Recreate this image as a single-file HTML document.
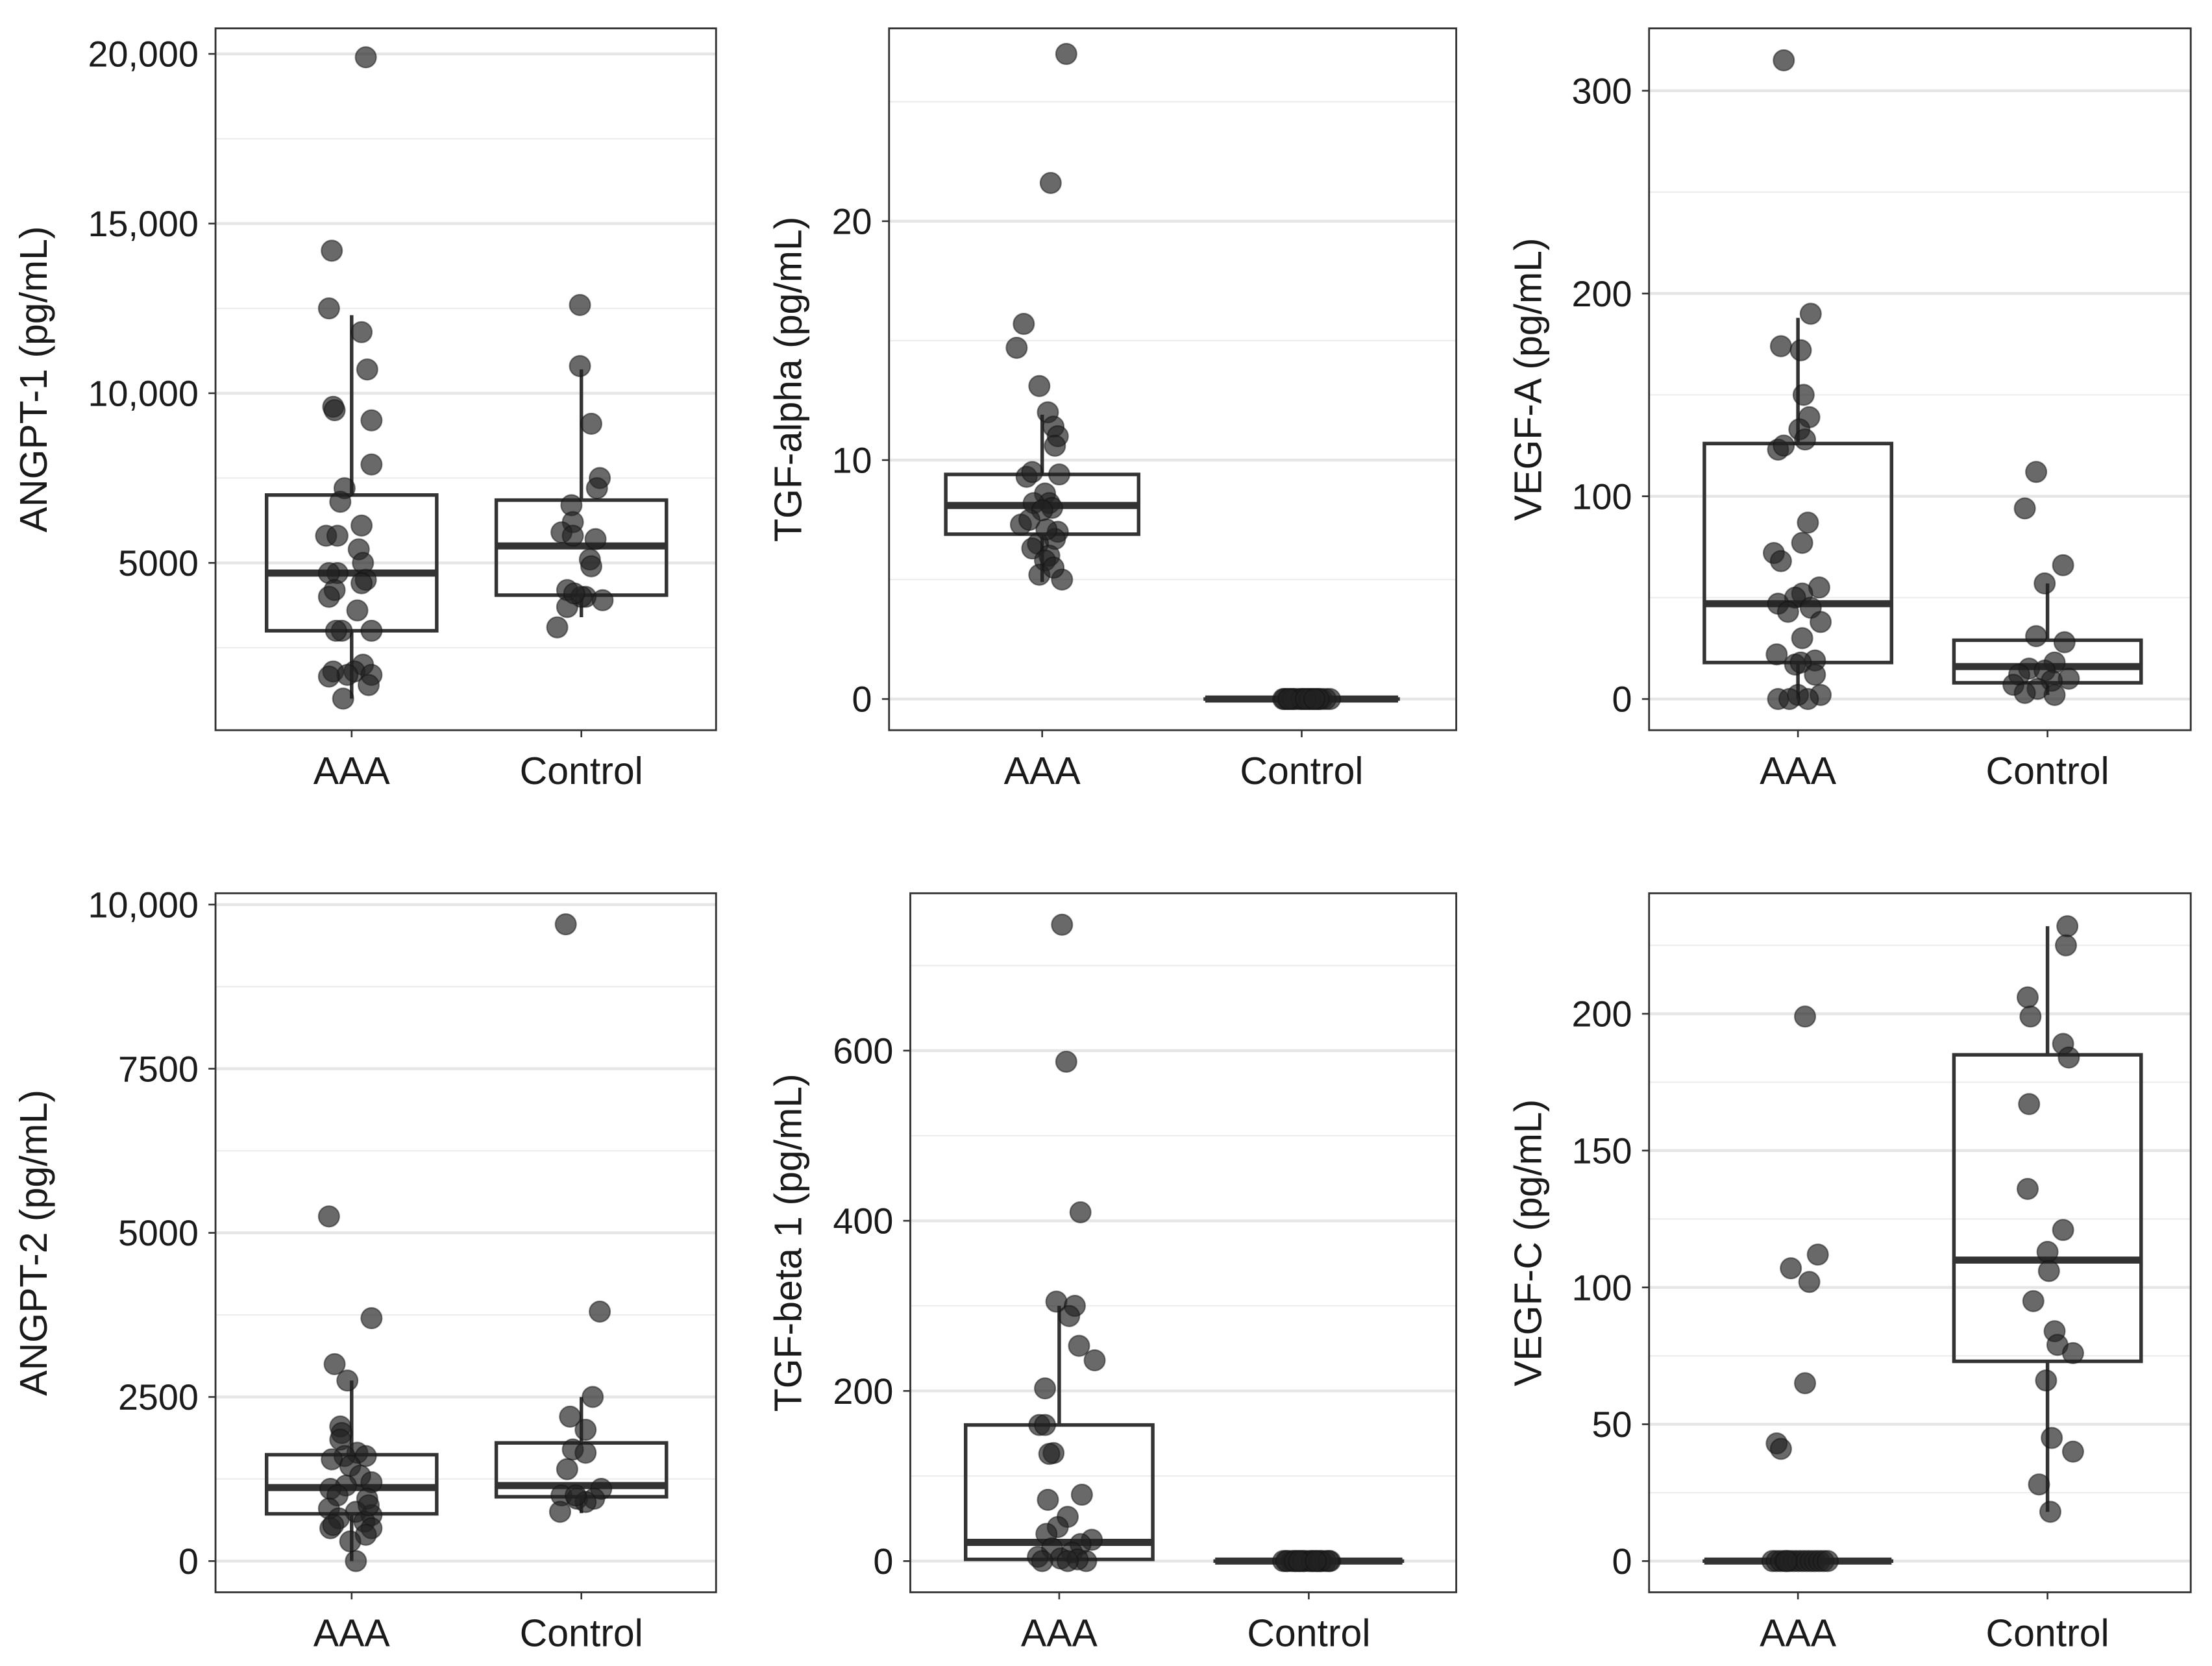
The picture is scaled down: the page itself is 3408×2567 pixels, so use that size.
<!DOCTYPE html>
<html><head><meta charset="utf-8">
<style>
html,body{margin:0;padding:0;background:#fff;}
svg{display:block;}
text{font-family:"Liberation Sans",Arial,sans-serif;fill:#1a1a1a;}
</style></head>
<body>
<svg id="fig" width="3408" height="2567" viewBox="0 0 1560 1175" preserveAspectRatio="none" xmlns="http://www.w3.org/2000/svg"></svg>
<script>
// ---------- data ----------
const categories = ["AAA","Control"];
// Panel 1: ANGPT-1
const p1Ticks = [5000,10000,15000,20000];
const p1TickLabels = ["5000","10,000","15,000","20,000"];
const p1Minor = [2500,7500,12500,17500];
const p1Box = [[1000,3000,4700,7000,12300],[3400,4050,5500,6850,10700]];
const p1AAA = [19900,14200,12500,11800,10700,9600,9500,9200,7900,7200,6800,5800,5800,6100,5400,5000,4700,4700,4500,4400,4200,4000,3600,3000,3000,3000,1800,2000,1800,1700,1400,1000,1700,1650];
const p1AAAj = [10,-14,-16,7,11,-13,-12,14,14,-5,-8,-18,-10,7,5,8,-10,-16,10,7,-12,-16,4,-7,-11,14,-13,8,2,14,12,-6,-3,-16];
const p1Ctl = [12600,10800,9100,7500,7200,6700,6200,5900,5800,5700,5100,4900,4200,4000,3900,4000,3700,3100,4100];
const p1Ctlj = [-1,-1,7,13,11,-7,-6,-14,-6,10,6,7,-10,3,15,0,-10,-17,-5];
// Panel 2: TGF-alpha
const p2Ticks = [0,10,20];
const p2TickLabels = ["0","10","20"];
const p2Minor = [5,15,25];
const p2Box = [[4.9,6.9,8.1,9.4,11.9],[0,0,0,0,0]];
const p2AAA = [27,21.6,15.7,14.7,13.1,12,11.4,11,10.6,9.4,9.3,9.5,8.6,8.2,8.0,8.2,7.9,7.3,7.0,6.7,6.5,6.3,6.0,5.8,5.2,5.0,5.5,7.5,7.1];
const p2AAAj = [17,6,-13,-18,-2,4,8,11,9,12,-11,-7,2,5,7,-6,0,-15,11,9,-3,-7,5,2,-2,14,8,-9,3];
const p2Ctl = [0,0,0,0,0,0,0,0,0,0,0,0,0,0,0,0,0,0,0,0];
const p2Ctlj = [-13,-10,-7,-4,-1,2,5,8,11,14,17,20,-12,-6,0,6,12,-9,3,9];
// Panel 3: VEGF-A
const p3Ticks = [0,100,200,300];
const p3TickLabels = ["0","100","200","300"];
const p3Minor = [50,150,250];
const p3Box = [[0,18,47,126,188],[2,8,16,29,57]];
const p3AAA = [315,190,174,172,150,139,133,123,125,128,87,77,72,68,55,52,50,47,43,45,38,30,22,17,19,18,2,0,2,0,0,12];
const p3AAAj = [-10,9,-12,2,4,8,1,-14,-10,5,7,3,-17,-12,15,3,-2,-14,-7,9,16,3,-15,-2,12,2,16,-14,0,7,-6,12];
const p3Ctl = [112,94,66,57,31,28,18,15,14,10,12,9,5,7,2,3];
const p3Ctlj = [-8,-16,11,-2,-8,12,5,-13,-2,15,-20,3,-7,-24,5,-16];
// Panel 4: ANGPT-2
const p4Ticks = [0,2500,5000,7500,10000];
const p4TickLabels = ["0","2500","5000","7500","10,000"];
const p4Minor = [1250,3750,6250,8750];
const p4Box = [[0,720,1120,1620,2750],[730,980,1150,1800,2500]];
const p4AAA = [5250,3700,3000,2750,2050,1950,1850,1650,1600,1600,1550,1450,1300,1200,1150,1100,1000,950,800,750,700,650,600,500,550,500,400,0,300,850];
const p4AAAj = [-16,14,-12,-3,-8,-7,-8,4,10,-5,-14,-1,6,14,-4,-15,-10,11,-16,3,14,-9,9,-15,-13,14,10,3,-1,12];
const p4Ctl = [9700,3800,2500,2200,2000,1700,1650,1400,1100,1000,950,950,900,1000,750];
const p4Ctlj = [-11,13,8,-8,3,-6,3,-10,14,-14,-3,9,3,-4,-15];
// Panel 5: TGF-beta 1
const p5Ticks = [0,200,400,600];
const p5TickLabels = ["0","200","400","600"];
const p5Minor = [100,300,500,700];
const p5Box = [[0,2,22,160,300],[0,0,0,0,0]];
const p5AAA = [748,587,410,305,300,288,253,236,203,160,160,127,126,78,72,52,40,32,25,20,15,10,5,3,0,0,2,0];
const p5AAAj = [2,5,15,-2,11,7,14,25,-10,-14,-10,-4,-7,16,-8,6,-1,-9,23,15,-5,9,-15,1,19,-12,13,6];
const p5Ctl = [0,0,0,0,0,0,0,0,0,0,0,0,0,0,0,0,0,0,0,0];
const p5Ctlj = [-18,-15,-12,-9,-6,-3,0,3,6,9,12,15,-16,-10,-4,2,8,14,-7,5];
// Panel 6: VEGF-C
const p6Ticks = [0,50,100,150,200];
const p6TickLabels = ["0","50","100","150","200"];
const p6Minor = [25,75,125,175,225];
const p6Box = [[0,0,0,0,0],[18,73,110,185,232]];
const p6AAA = [199,112,107,102,65,43,41,0,0,0,0,0,0,0,0,0,0,0,0,0,0,0];
const p6AAAj = [5,14,-5,8,5,-15,-12,-18,-15,-12,-9,-6,-3,0,3,6,9,12,15,18,21,-8];
const p6Ctl = [232,225,206,199,189,184,167,136,121,113,106,95,84,79,76,66,45,40,28,18];
const p6Ctlj = [14,13,-14,-12,11,15,-13,-14,11,0,1,-10,5,7,18,-1,3,18,-6,2];

// ---------- layout (not data) ----------
const panels = [
 {id:"angpt1",title:"ANGPT-1 (pg/mL)",L:152,R:505,T:20,B:515,v0:5000,y0:397,v1:20000,y1:38,cx:[248,410],hw:60,ticks:p1Ticks,labels:p1TickLabels,minor:p1Minor,box:p1Box,pts:[[p1AAA,p1AAAj],[p1Ctl,p1Ctlj]],tx:24},
 {id:"tgfalpha",title:"TGF-alpha (pg/mL)",L:627,R:1027,T:20,B:515,v0:0,y0:493,v1:20,y1:156,cx:[735,918],hw:68,ticks:p2Ticks,labels:p2TickLabels,minor:p2Minor,box:p2Box,pts:[[p2AAA,p2AAAj],[p2Ctl,p2Ctlj]],tx:556},
 {id:"vegfa",title:"VEGF-A (pg/mL)",L:1163,R:1545,T:20,B:515,v0:0,y0:493,v1:300,y1:64,cx:[1268,1444],hw:66,ticks:p3Ticks,labels:p3TickLabels,minor:p3Minor,box:p3Box,pts:[[p3AAA,p3AAAj],[p3Ctl,p3Ctlj]],tx:1078},
 {id:"angpt2",title:"ANGPT-2 (pg/mL)",L:152,R:505,T:630,B:1123,v0:0,y0:1101,v1:10000,y1:638,cx:[248,410],hw:60,ticks:p4Ticks,labels:p4TickLabels,minor:p4Minor,box:p4Box,pts:[[p4AAA,p4AAAj],[p4Ctl,p4Ctlj]],tx:24},
 {id:"tgfbeta1",title:"TGF-beta 1 (pg/mL)",L:642,R:1027,T:630,B:1123,v0:0,y0:1101,v1:600,y1:741,cx:[747,923],hw:66,ticks:p5Ticks,labels:p5TickLabels,minor:p5Minor,box:p5Box,pts:[[p5AAA,p5AAAj],[p5Ctl,p5Ctlj]],tx:556},
 {id:"vegfc",title:"VEGF-C (pg/mL)",L:1163,R:1545,T:630,B:1123,v0:0,y0:1101,v1:200,y1:715,cx:[1268,1444],hw:66,ticks:p6Ticks,labels:p6TickLabels,minor:p6Minor,box:p6Box,pts:[[p6AAA,p6AAAj],[p6Ctl,p6Ctlj]],tx:1078}
];
const NS="http://www.w3.org/2000/svg";
const svg=document.getElementById('fig');
function mk(tag,attrs,parent){const e=document.createElementNS(NS,tag);for(const k in attrs)e.setAttribute(k,attrs[k]);parent.appendChild(e);return e;}

panels.forEach(p=>{
  const g=mk('g',{},svg);
  
  
  const y=v=>p.y0+(v-p.v0)*(p.y1-p.y0)/(p.v1-p.v0);
  mk('rect',{x:p.L,y:p.T,width:p.R-p.L,height:p.B-p.T,fill:'#fff'},g);
  p.minor.forEach(v=>{const yy=y(v);if(yy>p.T&&yy<p.B){const l=mk('line',{x1:p.L,x2:p.R,y1:yy,y2:yy,stroke:'#ededed','stroke-width':1},g);
    
    }});
  p.ticks.forEach((v,i)=>{const yy=y(v);
    const l=mk('line',{x1:p.L,x2:p.R,y1:yy,y2:yy,stroke:'#e6e6e6','stroke-width':2},g);
    
    
    mk('line',{x1:p.L-5,x2:p.L,y1:yy,y2:yy,stroke:'#333','stroke-width':1.2},g);
    const t=mk('text',{x:p.L-12,y:yy+9,'text-anchor':'end','font-size':25.5},g);
    t.textContent=p.labels[i];
    
    
  });
  p.box.forEach((b,i)=>{
    const cx=p.cx[i];
    const bg=mk('g',{stroke:'#333',fill:'none'},g);
    
    
    mk('line',{x1:cx,x2:cx,y1:y(b[0]),y2:y(b[1]),'stroke-width':2.5},bg);
    mk('line',{x1:cx,x2:cx,y1:y(b[3]),y2:y(b[4]),'stroke-width':2.5},bg);
    mk('rect',{x:cx-p.hw,y:y(b[3]),width:2*p.hw,height:Math.max(0.01,y(b[1])-y(b[3])),'stroke-width':2.5},bg);
    mk('line',{x1:cx-p.hw,x2:cx+p.hw,y1:y(b[2]),y2:y(b[2]),'stroke-width':5},bg);
  });
  p.pts.forEach((s,i)=>{
    s[0].forEach((v,k)=>{
      const c=mk('circle',{cx:p.cx[i]+s[1][k],cy:y(v),r:7.3,fill:'#222','fill-opacity':0.68,stroke:'#111','stroke-opacity':0.5,'stroke-width':1},g);
      
      
    });
  });
  const fr=mk('rect',{x:p.L,y:p.T,width:p.R-p.L,height:p.B-p.T,fill:'none',stroke:'#333','stroke-width':1.3},g);
  
  
  categories.forEach((c,i)=>{
    mk('line',{x1:p.cx[i],x2:p.cx[i],y1:p.B,y2:p.B+5,stroke:'#333','stroke-width':1.2},g);
    const t=mk('text',{x:p.cx[i],y:p.B+38,'text-anchor':'middle','font-size':27},g);
    t.textContent=c;
    
    
  });
  const my=(p.T+p.B)/2;
  const tt=mk('text',{x:p.tx+9,y:my,'text-anchor':'middle','font-size':27,transform:'rotate(-90 '+(p.tx+9)+' '+my+')'},g);
  tt.textContent=p.title;
  
  
});
</script>
</body></html>
